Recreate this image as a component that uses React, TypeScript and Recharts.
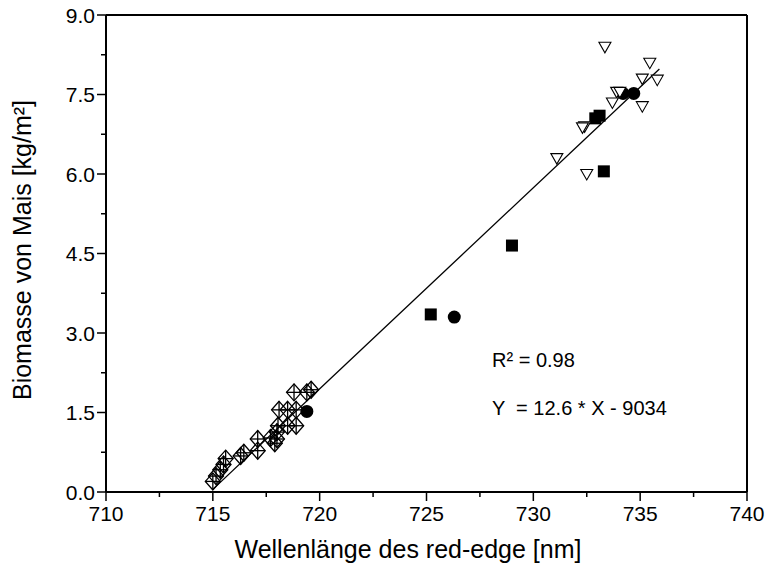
import React from 'react';
import { ScatterChart, Scatter, XAxis, YAxis, ReferenceLine } from 'recharts';

// wavelength [nm], biomass [kg/m²]
const diamondPts = [
  { x: 715.0, y: 0.2 }, { x: 715.15, y: 0.3 }, { x: 715.35, y: 0.42 }, { x: 715.5, y: 0.52 },
  { x: 715.6, y: 0.63 }, { x: 716.3, y: 0.68 }, { x: 716.45, y: 0.74 }, { x: 717.1, y: 0.78 },
  { x: 717.1, y: 1.0 }, { x: 717.7, y: 1.02 }, { x: 718.0, y: 1.0 }, { x: 718.0, y: 1.13 },
  { x: 718.05, y: 1.25 }, { x: 718.1, y: 1.55 }, { x: 718.5, y: 1.25 }, { x: 718.5, y: 1.55 },
  { x: 718.9, y: 1.25 }, { x: 718.9, y: 1.55 }, { x: 718.8, y: 1.88 }, { x: 719.4, y: 1.88 },
  { x: 719.6, y: 1.93 }, { x: 717.9, y: 0.92 },
];
const circlePts = [
  { x: 719.4, y: 1.52 }, { x: 726.3, y: 3.3 }, { x: 734.2, y: 7.52 }, { x: 734.7, y: 7.52 },
];
const squarePts = [
  { x: 725.2, y: 3.35 }, { x: 729.0, y: 4.65 }, { x: 733.3, y: 6.05 }, { x: 732.9, y: 7.05 }, { x: 733.1, y: 7.1 },
];
const trianglePts = [
  { x: 733.35, y: 8.4 }, { x: 735.45, y: 8.1 }, { x: 735.1, y: 7.8 }, { x: 735.8, y: 7.78 },
  { x: 733.9, y: 7.55 }, { x: 734.05, y: 7.55 }, { x: 733.7, y: 7.35 }, { x: 735.1, y: 7.28 },
  { x: 732.4, y: 6.9 }, { x: 732.3, y: 6.88 }, { x: 731.1, y: 6.3 }, { x: 732.5, y: 6.0 },
];
const fitLine = [{ x: 715.0, y: 0.05 }, { x: 735.9, y: 7.98 }];

const xTicks = [710, 712.5, 715, 717.5, 720, 722.5, 725, 727.5, 730, 732.5, 735, 737.5, 740];
const xMajor = [710, 715, 720, 725, 730, 735, 740];
const yTicks = [0, 0.75, 1.5, 2.25, 3, 3.75, 4.5, 5.25, 6, 6.75, 7.5, 8.25, 9];
const yMajor = [0, 1.5, 3, 4.5, 6, 7.5, 9];

const FONT = '"Liberation Sans", Arial, sans-serif';

const XTick = (props: any) => {
  const { x, y, payload } = props;
  const major = xMajor.includes(payload.value);
  return (
    <g>
      <line x1={x} x2={x} y1={y} y2={y + (major ? 9 : 5)} stroke="#000" strokeWidth={1.5} />
      {major && (
        <text x={x} y={y + 29} textAnchor="middle" fontSize={21} fontFamily={FONT} fill="#000">
          {payload.value}
        </text>
      )}
    </g>
  );
};

const YTick = (props: any) => {
  const { x, y, payload } = props;
  const major = yMajor.includes(payload.value);
  return (
    <g>
      <line x1={x} x2={x - (major ? 9 : 5)} y1={y} y2={y} stroke="#000" strokeWidth={1.5} />
      {major && (
        <text x={x - 11} y={y + 7.5} textAnchor="end" fontSize={21} fontFamily={FONT} fill="#000">
          {payload.value.toFixed(1)}
        </text>
      )}
    </g>
  );
};

const diamond = (props: any) => {
  const { cx, cy } = props;
  const w = 7.5, h = 8.5;
  return (
    <g stroke="#000" strokeWidth={1.3} fill="none">
      <path d={`M${cx},${cy - h}L${cx + w},${cy}L${cx},${cy + h}L${cx - w},${cy}Z`} />
      <line x1={cx - w} x2={cx + w} y1={cy} y2={cy} />
      <line x1={cx} x2={cx} y1={cy - h} y2={cy + h} />
    </g>
  );
};
const circle = (props: any) => <circle cx={props.cx} cy={props.cy} r={6.5} fill="#000" />;
const square = (props: any) => <rect x={props.cx - 6} y={props.cy - 6} width={12} height={12} fill="#000" />;
const triangle = (props: any) => {
  const { cx, cy } = props;
  return <path d={`M${cx - 6},${cy - 4.5}L${cx + 6},${cy - 4.5}L${cx},${cy + 6}Z`} fill="#fff" stroke="#000" strokeWidth={1.1} />;
};

export default function App() {
  return (
    <div style={{ position: 'absolute', left: 0, top: 0, width: 766, height: 566, background: '#fff', fontFamily: FONT }}>
      <ScatterChart width={766} height={566} margin={{ top: 15, right: 19, bottom: 0, left: 0 }}>
        <XAxis
          type="number" dataKey="x" domain={[710, 740]} ticks={xTicks} interval={0}
          tickSize={0} tickMargin={0} tick={<XTick />} height={74}
          axisLine={{ stroke: '#000', strokeWidth: 2 }}
        />
        <YAxis
          type="number" dataKey="y" domain={[0, 9]} ticks={yTicks} interval={0}
          tickSize={0} tickMargin={0} tick={<YTick />} width={106}
          axisLine={{ stroke: '#000', strokeWidth: 2 }}
        />
        <ReferenceLine y={9} stroke="#000" strokeWidth={2} />
        <ReferenceLine x={740} stroke="#000" strokeWidth={2} />
        <ReferenceLine segment={fitLine} stroke="#000" strokeWidth={1.3} />
        <Scatter data={diamondPts} shape={diamond} isAnimationActive={false} />
        <Scatter data={squarePts} shape={square} isAnimationActive={false} />
        <Scatter data={circlePts} shape={circle} isAnimationActive={false} />
        <Scatter data={trianglePts} shape={triangle} isAnimationActive={false} />
      </ScatterChart>
      <div style={{ position: 'absolute', left: 0, top: 535, width: 816, textAlign: 'center', fontSize: 25, lineHeight: '28px' }}>
        Wellenlänge des red-edge [nm]
      </div>
      <div style={{ position: 'absolute', left: 22, top: 250, transform: 'translate(-50%, -50%) rotate(-90deg)', whiteSpace: 'nowrap', fontSize: 25, lineHeight: '28px' }}>
        Biomasse von Mais [kg/m²]
      </div>
      <div style={{ position: 'absolute', left: 492, top: 349, fontSize: 20, lineHeight: '23px', whiteSpace: 'pre' }}>R² = 0.98</div>
      <div style={{ position: 'absolute', left: 492, top: 397, fontSize: 20, lineHeight: '23px', whiteSpace: 'pre' }}>Y  = 12.6 * X - 9034</div>
    </div>
  );
}
